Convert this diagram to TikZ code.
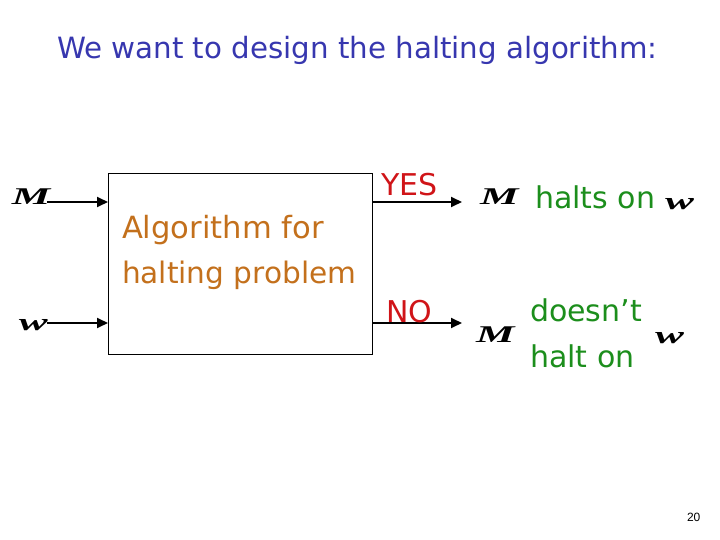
\documentclass[tikz,border=0pt]{standalone}
\usepackage{fontspec}
\usepackage{graphicx}
\setmainfont{DejaVu Sans}
\newfontfamily\mathserif{Liberation Serif}
\newfontfamily\numfont{Liberation Sans}
\usetikzlibrary{arrows.meta}
\definecolor{titleblue}{RGB}{55,55,175}
\definecolor{algoorange}{RGB}{195,112,28}
\definecolor{ansred}{RGB}{208,20,24}
\definecolor{resgreen}{RGB}{28,142,28}
\newcommand{\mvar}[1]{\scalebox{1.8}[1]{\fontsize{24}{24}\mathserif\bfseries\itshape #1}}
\tikzset{
  txt/.style={inner sep=0pt, outer sep=0pt, anchor=base west},
  body/.style={txt, font=\fontsize{30}{36}\selectfont},
  arr/.style={line width=1.8pt, -{Triangle[length=11pt,width=10pt]}},
  mathlbl/.style={txt},
}
\begin{document}
\begin{tikzpicture}[x=1pt,y=-1pt]
\useasboundingbox (0,0) rectangle (720,540);
% title
\node[body, text=titleblue, font=\fontsize{29.3}{34}\selectfont] (title) at (57,59) {We want to design the halting algorithm:};
% box
\node[draw, line width=1pt, minimum width=264pt, minimum height=181pt, inner sep=0pt, anchor=north west] (box) at (108,173) {};
\node[body, text=algoorange, font=\fontsize{30.6}{36}\selectfont] (alg1) at (122,238) {Algorithm for};
\node[body, text=algoorange, font=\fontsize{29.6}{36}\selectfont] (alg2) at (122,283) {halting problem};
% inputs
\node[mathlbl] (mL) at (12,205) {\mvar{M}};
\node[mathlbl] (wL) at (19,330) {\mvar{w}};
\coordinate (inM) at (47,202);
\coordinate (inW) at (47,323);
\draw[arr] (inM) -- (inM -| box.west);
\draw[arr] (inW) -- (inW -| box.west);
% outputs
\coordinate (outY) at (462,202);
\coordinate (outN) at (462,323);
\draw[arr] (outY -| box.east) -- (outY);
\draw[arr] (outN -| box.east) -- (outN);
\node[body, text=ansred] (yes) at (381,196) {YES};
\node[body, text=ansred] (no) at (386,322) {NO};
% results
\node[mathlbl] (mR1) at (480,205) {\mvar{M}};
\node[body, text=resgreen] (halts) at (535,208) {halts on};
\node[mathlbl] (wR1) at (665,210) {\mvar{w}};
\node[mathlbl] (mR2) at (476,342) {\mvar{M}};
\node[body, text=resgreen] (doesnt) at (530,321) {doesn’t};
\node[body, text=resgreen] (haltn) at (530,367) {halt on};
\node[mathlbl] (wR2) at (655,343) {\mvar{w}};
% page number
\node[txt, font=\fontsize{12}{14}\numfont] (pnum) at (687,521) {20};
\end{tikzpicture}
\end{document}
